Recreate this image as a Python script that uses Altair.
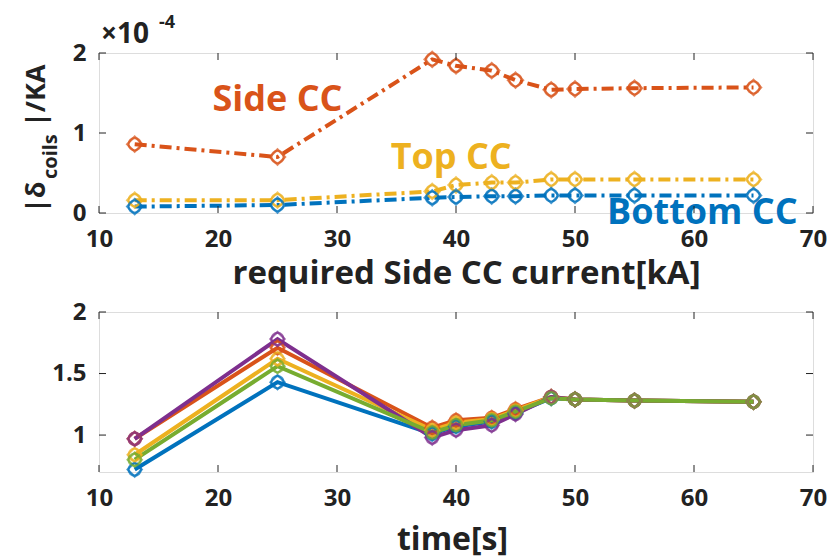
import altair as alt
import pandas as pd

# ---------------- data ----------------
x_vals = [13, 25, 38, 40, 43, 45, 48, 50, 55, 65]

# top panel (units of 1e-4)
side_cc = [0.86, 0.70, 1.92, 1.84, 1.78, 1.66, 1.54, 1.55, 1.56, 1.57]
top_cc = [0.16, 0.16, 0.27, 0.35, 0.38, 0.38, 0.42, 0.42, 0.42, 0.42]
bottom_cc = [0.08, 0.10, 0.19, 0.20, 0.21, 0.21, 0.22, 0.22, 0.22, 0.22]
top_series = ["Side CC", "Top CC", "Bottom CC"]
top_colors = ["#D95319", "#EDB120", "#0072BD"]

# bottom panel
s1 = [0.72, 1.43, 1.01, 1.07, 1.11, 1.18, 1.30, 1.29, 1.28, 1.27]
s2 = [0.97, 1.71, 1.06, 1.12, 1.14, 1.21, 1.31, 1.29, 1.28, 1.27]
s3 = [0.84, 1.62, 1.04, 1.10, 1.13, 1.20, 1.31, 1.29, 1.28, 1.27]
s4 = [0.97, 1.78, 0.98, 1.04, 1.08, 1.17, 1.31, 1.29, 1.28, 1.27]
s5 = [0.80, 1.56, 1.02, 1.08, 1.12, 1.19, 1.30, 1.29, 1.28, 1.27]
bot_series = ["s1", "s2", "s3", "s4", "s5"]
bot_colors = ["#0072BD", "#D95319", "#EDB120", "#7E2F8E", "#77AC30"]

# annotation labels (data coordinates)
label_text = ["Side CC", "Top CC", "Bottom CC"]
label_x = [25.0, 39.6, 60.7]
label_y = [1.41, 0.69, 0.0]

x_ticks = [10, 20, 30, 40, 50, 60, 70]
top_yticks = [0, 1, 2]
bot_yticks = [1, 1.5, 2]

TXT = "#222222"
FONT = "Open Sans"
W, H = 714, 160

# ---------------- tables ----------------
top_df = pd.DataFrame(
    [{"x": x, "y": v, "s": s, "o": i}
     for s, vals in zip(top_series, [side_cc, top_cc, bottom_cc])
     for i, (x, v) in enumerate(zip(x_vals, vals))]
)
bot_df = pd.DataFrame(
    [{"x": x, "y": v, "s": s, "o": i}
     for s, vals in zip(bot_series, [s1, s2, s3, s4, s5])
     for i, (x, v) in enumerate(zip(x_vals, vals))]
)
lab_df = pd.DataFrame({"t": label_text, "x": label_x, "y": label_y, "s": top_series})
xt_df = pd.DataFrame({"v": x_ticks})


def xscale():
    return alt.Scale(domain=[10, 70], nice=False, zero=False)


def make_ticks(ydomain, yticks):
    ysc = alt.Scale(domain=ydomain, nice=False, zero=False)
    xt = alt.Chart(xt_df)
    tb = xt.mark_rule(color=TXT, strokeWidth=1).encode(
        x=alt.X("v:Q", scale=xscale()), y=alt.value(H), y2=alt.value(H - 7))
    tt = xt.mark_rule(color=TXT, strokeWidth=1).encode(
        x=alt.X("v:Q", scale=xscale()), y=alt.value(0), y2=alt.value(7))
    yt_df = pd.DataFrame({"v": yticks})
    yt = alt.Chart(yt_df)
    tl = yt.mark_rule(color=TXT, strokeWidth=1).encode(
        y=alt.Y("v:Q", scale=ysc), x=alt.value(0), x2=alt.value(7))
    tr = yt.mark_rule(color=TXT, strokeWidth=1).encode(
        y=alt.Y("v:Q", scale=ysc), x=alt.value(W), x2=alt.value(W - 7))
    return [tb, tt, tl, tr]


def xaxis(title, size, pad, tx):
    return alt.Axis(values=x_ticks, title=title, ticks=False, domain=False, grid=False,
                    labelPadding=14, labelFontSize=24, labelFontWeight="bold",
                    labelColor=TXT, titleFontSize=size, titleFontWeight="bold",
                    titleColor=TXT, titlePadding=pad, titleX=tx, labelFlush=False)


def yaxis(vals):
    return alt.Axis(values=vals, title=None, ticks=False, domain=False, grid=False,
                    labelPadding=13, labelFontSize=24, labelFontWeight="bold",
                    labelColor=TXT, labelExpr="datum.value")


# ---------------- top panel ----------------
tcolor = alt.Color("s:N", scale=alt.Scale(domain=top_series, range=top_colors), legend=None)
tx = alt.X("x:Q", scale=xscale(),
           axis=xaxis("required Side CC current[kA]", 33, 6, W / 2 + 10))
ty = alt.Y("y:Q", scale=alt.Scale(domain=[0, 2], nice=False), axis=yaxis(top_yticks))

tbase = alt.Chart(top_df)
t_line = tbase.mark_line(strokeWidth=4, strokeDash=[12, 5, 3, 5]).encode(
    x=tx, y=ty, color=tcolor, order="o:Q")
t_dia = tbase.mark_point(shape="diamond", filled=False, size=230, strokeWidth=2.2).encode(
    x=tx, y=ty, color=tcolor)
t_cir = tbase.mark_point(shape="circle", filled=False, size=150, strokeWidth=2.2).encode(
    x=tx, y=ty, color=tcolor)
t_lab = alt.Chart(lab_df).mark_text(fontSize=36, fontWeight="bold", font=FONT).encode(
    x=alt.X("x:Q", scale=xscale()), y=alt.Y("y:Q", scale=alt.Scale(domain=[0, 2], nice=False)),
    text="t:N", color=tcolor)

one = lab_df.head(1)
exp_a = alt.Chart(one).mark_text(text="×10", fontSize=28, fontWeight="bold",
                                 align="left", baseline="alphabetic",
                                 color=TXT, font=FONT).encode(
    x=alt.value(2), y=alt.value(-10))
exp_b = alt.Chart(one).mark_text(text="-4", fontSize=18, fontWeight="bold",
                                 align="left", baseline="alphabetic",
                                 color=TXT, font=FONT).encode(
    x=alt.value(60), y=alt.value(-25))

yl1 = alt.Chart(one).mark_text(text="|δ", fontSize=27, fontWeight="bold", angle=270,
                               align="left", baseline="alphabetic",
                               color=TXT, font=FONT).encode(
    x=alt.value(-54), y=alt.value(160))
yl2 = alt.Chart(one).mark_text(text="coils", fontSize=20, fontWeight="bold", angle=270,
                               align="left", baseline="alphabetic",
                               color=TXT, font=FONT).encode(
    x=alt.value(-42), y=alt.value(126))
yl3 = alt.Chart(one).mark_text(text="|/KA", fontSize=27, fontWeight="bold", angle=270,
                               align="left", baseline="alphabetic",
                               color=TXT, font=FONT).encode(
    x=alt.value(-54), y=alt.value(74))

top_chart = alt.layer(t_line, t_dia, t_cir, t_lab, *make_ticks([0, 2], top_yticks),
                      exp_a, exp_b, yl1, yl2, yl3).properties(width=W, height=H)

# ---------------- bottom panel ----------------
bcolor = alt.Color("s:N", scale=alt.Scale(domain=bot_series, range=bot_colors), legend=None)
bx = alt.X("x:Q", scale=xscale(), axis=xaxis("time[s]", 32, 14, W / 2 - 4))
by = alt.Y("y:Q", scale=alt.Scale(domain=[0.7, 2], nice=False, zero=False),
           axis=yaxis(bot_yticks))
bbase = alt.Chart(bot_df)
b_line = bbase.mark_line(strokeWidth=4).encode(x=bx, y=by, color=bcolor, order="o:Q")
b_dia = bbase.mark_point(shape="diamond", filled=False, size=200, strokeWidth=2.2).encode(
    x=bx, y=by, color=bcolor)
b_cir = bbase.mark_point(shape="circle", filled=False, size=150, strokeWidth=2.2).encode(
    x=bx, y=by, color=bcolor)

bot_chart = alt.layer(b_line, b_dia, b_cir, *make_ticks([0.7, 2], bot_yticks)).properties(
    width=W, height=H)

chart = alt.vconcat(top_chart, bot_chart, spacing=99, bounds="flush").resolve_scale(
    color="independent", y="independent"
).properties(
    padding={"left": 22, "top": 13, "right": 5, "bottom": 5},
    background="white",
).configure_view(stroke="#262626", strokeWidth=1.2).configure(font=FONT)

chart.save("out.html", embed_options={"renderer": "svg", "actions": False})
